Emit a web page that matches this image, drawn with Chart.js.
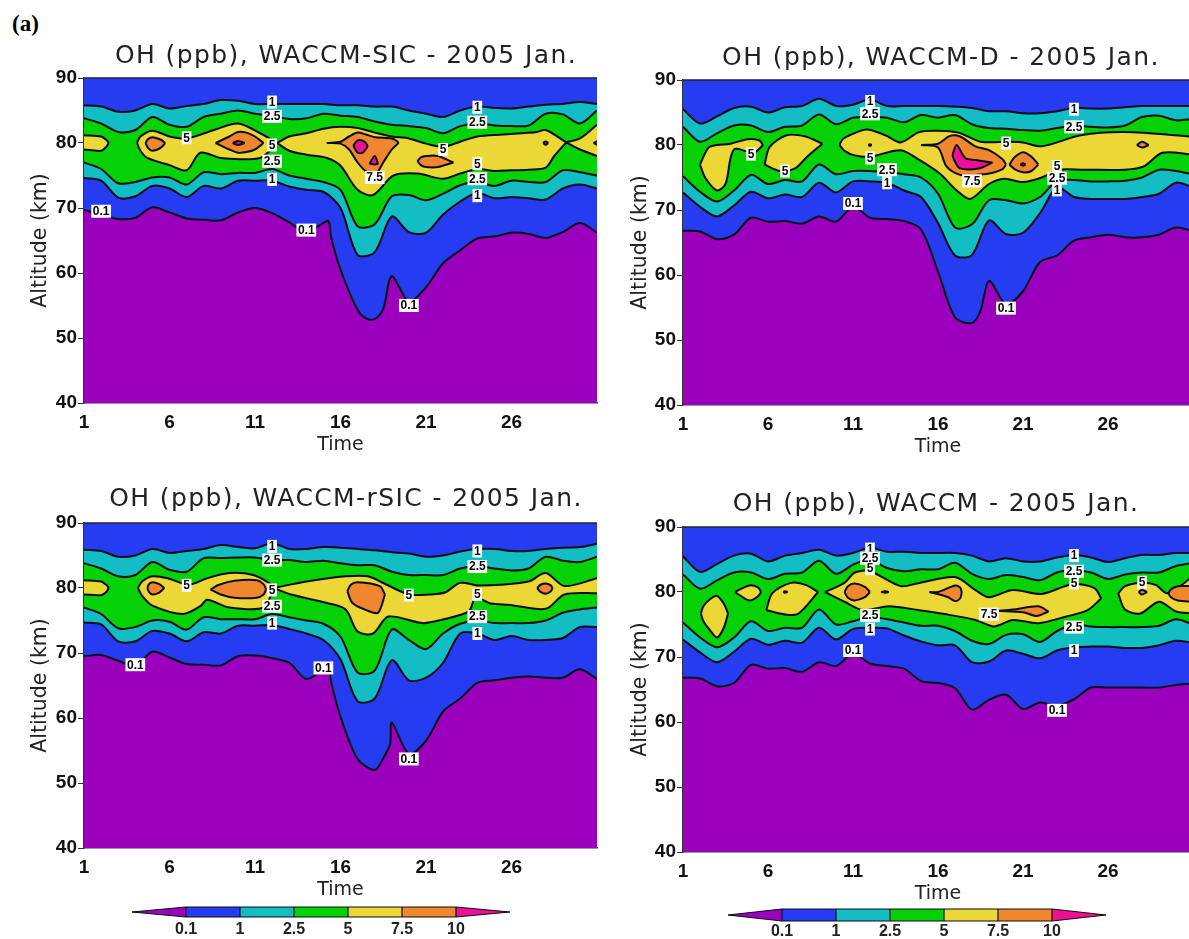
<!DOCTYPE html>
<html>
<head>
<meta charset="utf-8">
<title>OH (ppb) 2005 Jan.</title>
<script src="https://cdn.jsdelivr.net/npm/chart.js@4"></script>
<style>
html, body { margin: 0; padding: 0; width: 1189px; height: 939px; overflow: hidden; background: #fff; }
canvas { position: absolute; }
#tag { position: absolute; left: 12px; top: 11px; font: bold 23px "Liberation Serif", serif; color: #000; }
</style>
</head>
<body>
<div id="tag">(a)</div>
<canvas id="p-sic"></canvas>
<canvas id="p-d"></canvas>
<canvas id="p-rsic"></canvas>
<canvas id="p-base"></canvas>
<canvas id="bar-left"></canvas>
<canvas id="bar-right"></canvas>
<script>
const days = [1,2,3,4,5,6,7,8,9,10,11,12,13,14,15,16,17,18,19,20,21,22,23,24,25,26,27,28,29,30,31];
const xTickValues = [1,6,11,16,21,26];
const yTickValues = [40,50,60,70,80,90];
const levels = ['0.1','1','2.5','5','7.5','10'];

// WACCM-SIC contours, altitude in km per day
const sicUpper1 = [85.8,85.6,84.8,85,86,85.3,85.7,86,86.6,86.5,86,86,86,86,86,85.8,85.8,85.6,85.6,85,84.5,84,85,85.6,85.4,85.3,85.6,85.9,86,86.3,86];
const sicUpper25 = [83.8,83,81.7,82,84,82.8,82.5,84,84.5,85,84.5,84.2,83.7,83.8,84.5,84.2,84,83.3,82.8,82.6,82.3,81.5,82.6,83,82.7,82.6,82.7,84.5,84.4,83,85];
const sicLower25 = [77,76,73.8,74,74.7,74.7,73.6,75.5,75.2,75.4,75.4,76,75,74.5,74,72.8,67.2,67.5,71.8,72,71.2,72.2,73.5,74,73.4,74.2,74,74,75.8,75.5,75];
const sicLower1 = [74.6,74.2,71.6,71.8,73.4,73,71.7,73.4,73,74.2,74.2,74.2,73.3,72.8,72.5,70,62.8,63.2,68.7,66.3,66.2,69,71,72.3,71.5,71.7,71.5,71.3,73,73.6,73];
const sicLine01 = [[1,69.7],[2,69],[3,68.3],[4,68.5],[5,70.1],[6,69.3],[7,68.4],[8,68.2],[9,68.1],[10,69.3],[11,70],[12,69.2],[13,67.8],[14,66.3],[15,67.7],[15.3,68],[15.45,65.5],[16,60.5],[17,54.3],[17.5,53],[18,52.9],[18.5,54.5],[19,59.5],[20,55.6],[21,57.8],[22,61.5],[23,63.5],[24,65.3],[25,65.6],[26,66.2],[27,66],[28,65.4],[29,66.3],[30,67.7],[31,66.2]];
const sicIslands5 = [
  [[[1,81.2],[2,81],[2.3,80.5],[2.45,80]], [[1,79],[2,78.8],[2.3,79.4],[2.45,80]]],
  [[[4.1,80],[4.3,81],[5,81.9],[6,81],[7,80.7],[8.6,82],[10,83],[11.3,81.5],[12.3,80]], [[4.1,80],[4.3,78.8],[4.7,77.7],[6,76.6],[7,75.8],[7.8,78.5],[9,77.7],[11.3,77.7],[12.3,80]]],
  [[[12.3,80],[13,81],[14,81.5],[15,82.2],[16,82.5],[17,82.3],[18,81.6],[19,81],[20,80.7],[21,79.9],[22,79.4],[23,80.2],[24,81],[25.5,81.3],[27.5,81.7],[28,82],[29.2,80.1]], [[12.3,80],[13,78.8],[14,78.2],[15.2,77.7],[16,76.5],[17,72.8],[17.9,72],[19.1,75],[20.5,75.3],[22,74.5],[23,75.3],[24,76],[25,75.7],[26,75.8],[27,75.9],[28,76.2],[28.5,78],[29.2,80.1]]],
  [[[29.2,80.1],[30,80.7],[31,82.8]], [[29.2,80.1],[30,79],[31,78]]]
];
const sicIslands75 = [
  [[[4.6,80],[4.75,80.6],[5,80.9],[5.5,80.5],[5.75,80]], [[4.6,80],[4.75,79.2],[5,78.8],[5.5,79.3],[5.75,80]]],
  [[[8.7,80],[9.5,81],[10,81.7],[10.5,81.6],[11,81],[11.5,80]], [[8.7,80],[9.5,79],[10,78.5],[10.5,78.6],[11,79],[11.5,80]]],
  [[[15.2,80],[16,80.2],[16.5,81],[17,81.6],[17.5,81.3],[18,80.9],[19,80.7],[19.3,80.3],[19.4,80]], [[15.2,80],[16,79.9],[16.5,79],[17,77],[17.5,75.6],[18,75],[18.5,77],[19,79],[19.4,80]]],
  [[[20.5,77.2],[20.7,77.8],[21,78],[21.7,78],[22.6,77]], [[20.5,77.2],[20.7,76.6],[21,76.3],[21.7,76.3],[22.6,77]]],
  [[[27.85,80],[28,80.25],[28.15,80]], [[27.85,80],[28,79.75],[28.15,80]]],
  [[[30.8,80],[31,80.3]], [[30.8,80],[31,79.7]]]
];
const sicIslands10 = [
  [[[9.7,80],[10,80.3],[10.4,80]], [[9.7,80],[10,79.7],[10.4,80]]],
  [[[16.75,79.6],[17,80.4],[17.4,80.2],[17.6,79.5]], [[16.75,79.6],[17,78.5],[17.3,78.5],[17.6,79.5]]],
  [[[17.7,76.8],[18,78],[18.2,76.8]], [[17.7,76.8],[18,76.7],[18.2,76.8]]]
];
const sicLabels = [['0.1',2,69.5],['0.1',14,66.6],['0.1',20,55],['1',12,86.3],['2.5',12,84.1],['5',7,80.8],['5',12,79.7],['2.5',12,77.2],['1',12,74.4],['7.5',18,74.7],['5',22,79],['5',24,76.8],['2.5',24,74.5],['1',24,71.9],['1',24,85.5],['2.5',24,83.2]];

// WACCM-D contours
const dUpper1 = [85.5,83.3,84.4,85.7,85.9,85,85.8,86,87.1,86,86.2,87,86,86,86,86,85.9,85.7,85.2,85.2,84.9,84.9,85.2,85.7,85.6,85.6,85.8,86,86,86,86];
const dUpper25 = [82.8,80.5,81.8,83,83,82,82.8,83,84.7,83.2,84.2,84.3,84.2,83.5,84.6,84.2,84.6,83.2,82.6,82.5,82.3,82.2,82.6,83,82.8,82.7,83,84.3,84.5,83.8,84];
const dLower25 = [75.2,72.8,71.3,73,75.4,74,74.6,74.4,77,75.5,76,76,75.8,75.5,75,72.5,67.3,67.8,71.5,71.5,71,72,74.5,74.6,74.4,74.4,74.5,75,76.2,76,75.5];
const dLower1 = [72.7,70.5,69,70.7,72.8,71.8,72.4,72,74.2,72.7,74.4,74.4,74.2,73,72,68,63,63.1,68.4,66.3,66.5,69.5,73.5,72,71.7,71.7,71.7,72,72.5,74.2,73.5];
const dLine01 = [[1,66.8],[2,66.7],[3,65.5],[4,66.2],[5,68.8],[6,68.2],[7,68.3],[8,67.9],[9,69],[10,68.2],[11,70.5],[12,68.8],[13,68.6],[14,68.3],[15,67],[16,60.5],[17,53.5],[18,52.6],[18.5,54.5],[19,59.1],[20,55.5],[21,57.5],[22,62],[23,63],[24,65.3],[25,65.8],[26,66.2],[27,65.8],[28,65.8],[29,66.2],[30,67.3],[31,66.7]];
const dIslands5 = [
  [[[2,77],[2.5,79.6],[3,80],[3.8,80.2],[4.8,80.9],[5.5,80.7],[5.7,80]], [[2,77],[2.3,75],[3,73],[3.5,74],[3.8,78],[4.05,79.4],[4.8,79],[5.3,79],[5.7,80]]],
  [[[5.8,77],[6.1,79.7],[7.1,81.5],[8.2,81.3],[9.2,80.2]], [[5.8,77],[6.7,76],[7.6,76.4],[8.3,78.2],[9.2,80.2]]],
  [[[10.2,80],[10.4,80.9],[10.8,81.5],[11.8,82.4],[12.9,81.5],[13.8,80.4],[14.9,82],[16,82.2],[17.2,81.9],[18.5,80.5],[20.2,80.5],[21,80.4],[22.1,79.8],[24.4,81.5],[27,82],[31,81.3]], [[10.2,80],[10.5,79.1],[11.1,78.4],[12,78.2],[13.8,79.2],[14.9,77.7],[16.1,75.6],[17.1,73],[17.9,71.7],[19,74],[19.9,74.8],[21,74.3],[22.1,75],[23.1,76.2],[24.6,76.2],[27,76.2],[28.1,76.7],[29.2,78.8],[31,78.5]]]
];
const dIslands75 = [
  [[[15,80],[16,80.2],[16.7,81.4],[17.3,81.3],[18.2,79.8],[19,79.2],[19.8,77.8],[20,77]], [[15,80],[16,79.6],[16.5,76.7],[17.3,75.4],[18.2,75.4],[19,75.6],[19.8,76.3],[20,77]]],
  [[[20.2,77],[20.5,78.1],[21,78.9],[21.5,78.2],[21.9,77]], [[20.2,77],[20.5,76.3],[21,75.8],[21.5,76],[21.9,77]]],
  [[[11.9,80],[12,80.1],[12.1,80]], [[11.9,80],[12,79.9],[12.1,80]]],
  [[[27.7,80],[28,80.5],[28.4,80]], [[27.7,80],[28,79.6],[28.4,80]]]
];
const dIslands10 = [
  [[[16.85,78.5],[17.1,80],[17.6,78],[18.2,77.7],[19.2,77.3]], [[16.85,78.5],[16.95,77.7],[17.3,76.4],[18.4,76.4],[19.2,77.3]]],
  [[[20.85,77],[21,77.2],[21.15,77]], [[20.85,77],[21,76.8],[21.15,77]]]
];
const dLabels = [['1',12,86.7],['2.5',12,84.8],['5',5,78.6],['5',7,76],['5',12,78],['2.5',13,76.2],['1',13,74.2],['0.1',11,71],['7.5',18,74.5],['5',20,80.3],['5',23,76.7],['2.5',23,74.9],['1',23,73.1],['1',24,85.5],['2.5',24,82.8],['0.1',20,54.9]];

// WACCM-rSIC contours
const rsicUpper1 = [85.9,85.7,84.8,85,86,85.4,85.7,86,86.6,86.3,86.1,86.9,86,86,86.3,86.2,86,85.8,85.5,85.3,84.8,85,85.6,86,86,85.7,85.7,86,86.2,86.3,86.8];
const rsicUpper25 = [83.8,83,81.8,82,84,82.8,82.5,84.6,84.6,84.7,84.7,84.3,84.3,84,84.2,83.8,83.5,83.5,82.5,82,82,82,83,83.4,83,82.7,83,84.8,84.2,84,84.8];
const rsicLower25 = [77,76,73.8,74,75,74.8,73.6,75.5,75.2,75.2,75.2,76,75.5,75,74.5,72.5,67,67.3,73.6,72,70.6,73,74.5,75,74.6,74.6,74.6,75,76.2,76.7,77];
const rsicLower1 = [74.7,74.4,71.8,71.8,73.4,73,71.8,73.2,73,74.2,74.2,74.3,73.7,73,72,69,62.6,63,68.9,65.8,66.2,68.5,73,73,72,72.6,72,72,72.3,74,74];
const rsicLine01 = [[1,69.5],[2,69.7],[3,68.8],[4,68],[5,70.2],[6,69.3],[7,68.3],[8,68.2],[9,68.1],[10,69.5],[11,69.6],[12,69.2],[13,68.5],[14,66],[15,67.5],[15.3,68],[15.45,65.5],[16,60.2],[17,53.7],[18,52],[18.5,53.8],[18.9,56],[19,59.3],[20,54.5],[21,56.5],[22,61],[23,63],[24,65.4],[25,65.8],[26,66.2],[27,66.4],[28,66.2],[29,66.2],[30,67.5],[31,66]];
const rsicIslands5 = [
  [[[1,81.2],[2,81],[2.3,80.5],[2.45,80]], [[1,79],[2,78.9],[2.3,79.4],[2.45,80]]],
  [[[4.15,80],[4.4,81],[5,81.8],[5.9,81.5],[7.1,80.5],[8.2,81.5],[9.5,82.3],[10.9,82],[11.8,80.8],[12.1,80]], [[4.15,80],[4.4,78.8],[5,77.3],[6.8,76],[7.8,77.2],[8.2,78.2],[9.5,77],[11.5,77],[12.1,80]]],
  [[[12.1,80],[14,81],[16.3,81.8],[17.6,81.8],[18.7,80.5],[20,79],[21.2,79],[22.1,79.3],[23,80.8],[24,80.4],[25.3,80.5],[27,81],[28,82.3],[29.1,80.3],[31,81.5]], [[12.1,80],[13.1,79],[15.2,77.7],[16.3,76.7],[17,73.3],[17.9,73],[18.8,75.6],[20.8,74.6],[21.9,75.1],[23.5,76.4],[23.9,78.5],[24.8,77.6],[25.9,77.4],[28,76.8],[29.1,79],[31,79.2]]]
];
const rsicIslands75 = [
  [[[4.7,80],[4.8,80.6],[5,80.9],[5.4,80.6],[5.7,80]], [[4.7,80],[4.8,79.4],[5,79],[5.4,79.3],[5.7,80]]],
  [[[8.4,79.8],[8.9,80.5],[9.8,81.1],[11.1,81.2],[11.5,80.6],[11.65,79.8]], [[8.4,79.8],[9,79],[9.8,78.5],[11.1,78.5],[11.5,79],[11.65,79.8]]],
  [[[16.4,79.5],[16.6,80.5],[17,80.9],[18.3,80.3],[18.6,79]], [[16.4,79.5],[16.7,77.7],[17.6,76.5],[18.2,76.2],[18.6,79]]],
  [[[27.5,80],[27.7,80.5],[28,80.7],[28.3,80.4],[28.4,80]], [[27.5,80],[27.7,79.4],[28,79.1],[28.3,79.5],[28.4,80]]]
];
const rsicIslands10 = [];
const rsicLabels = [['0.1',4,68.2],['0.1',15,67.7],['0.1',20,53.7],['1',12,86.4],['2.5',12,84.3],['5',7,80.4],['5',12,79.7],['2.5',12,77.2],['1',12,74.6],['5',20,78.9],['5',24,79],['2.5',24,75.6],['1',24,73],['1',24,85.7],['2.5',24,83.3]];

// WACCM contours
const baseUpper1 = [85.5,83.1,84.3,85.6,85.9,84.7,85.6,86,86.5,85.6,86,86.8,86.2,86.2,86,86,86,85.6,84.7,85.2,84.7,84.7,85.3,85.7,85.3,84.6,85.2,85.7,85.7,86,86];
const baseUpper25 = [82.7,80.5,81.8,83,83,82,82.8,83,84.8,82.8,84.2,85,83.7,83.2,83.5,83.5,84.5,82.8,82,82.6,82.3,81.8,83,83.3,83,82,82.7,83,83,84,84.5];
const baseLower25 = [75.3,73,71.5,73,75.5,74,74.5,74.5,77.3,75,75.5,76.2,75.8,75.3,74.8,74.8,74,72.5,72,73.4,73.5,72.3,74,75,74.7,74.6,74.6,74.6,74.8,75.8,75];
const baseLower1 = [72.7,70.7,69.2,70.8,72.8,71.9,72.5,72.2,74.5,72.7,74.3,74.5,74.4,73.3,72.4,71.8,71.8,69.2,69.3,71,70.5,69.8,71,71.5,71.6,71.6,71.4,71.4,71.8,72.5,72.2];
const baseLine01 = [66.8,66.7,65.5,66,68.8,68.2,68.3,67.7,69.2,68.6,70.5,69,68.6,68.2,66.3,66,65.2,61.9,63.4,64.2,62,63,62.5,63.5,65.3,65.3,65.3,65.3,65.3,65.7,65.9];
const baseIslands5 = [
  [[[2.05,76.7],[2.2,77.8],[2.5,78.7],[3,79.4],[3.4,78.2],[3.65,76.7]], [[2.05,76.7],[2.2,75.5],[2.5,74.4],[3,73],[3.4,74.5],[3.65,76.7]]],
  [[[4.05,80],[4.9,81],[5.4,80.7],[5.6,80]], [[4.05,80],[4.9,78.7],[5.4,79.3],[5.6,80]]],
  [[[5.9,77.2],[6.25,79.8],[7.35,81.4],[8.2,81.1],[8.95,80]], [[5.9,77.2],[7.1,76.5],[7.8,76.7],[8.95,80]]],
  [[[9.35,80],[10.5,81.4],[11.1,83],[12,83.2],[13.8,80.9],[14.9,81.4],[17,82.3],[18.2,80.3],[19,79.2],[20.4,80.3],[22.1,79.7],[23.9,81.2],[25.2,80.6],[25.6,79]], [[9.35,80],[10.5,78.5],[11.6,77.2],[13.1,77.8],[14.9,77.2],[16.4,76.6],[18.2,75.7],[19.3,74.7],[20.4,75.7],[21.9,75.2],[23.5,76.2],[24.8,77.2],[25.6,79]]],
  [[[26.6,79.8],[27,80.9],[27.9,81.4],[28.8,81.1],[29.5,79.8],[31,82.4]], [[26.6,79.8],[27,77.3],[27.9,76.7],[29,78.5],[30,77],[31,76.7]]]
];
const baseIslands75 = [
  [[[10.5,80],[10.7,80.9],[11.1,81.3],[11.7,80.8],[12,80]], [[10.5,80],[10.7,79.1],[11.1,78.7],[11.7,79.2],[12,80]]],
  [[[12.65,80],[12.9,80.1],[13.1,80]], [[12.65,80],[12.9,79.9],[13.1,80]]],
  [[[15.5,80],[16,80],[17,81],[17.3,80.7],[17.4,80]], [[15.5,80],[16.6,79.2],[17,78.6],[17.3,79],[17.4,80]]],
  [[[19.5,77.1],[20.4,77.3],[21.9,77.8],[22.5,77]], [[19.5,77.1],[21,76.9],[21.8,76.3],[22.5,77]]],
  [[[29.55,79.8],[29.7,80.4],[30.1,80.9],[31,80.9]], [[29.55,79.8],[29.7,79.2],[30.1,78.7],[31,78.5]]],
  [[[27.8,80],[28,80.3],[28.3,80]], [[27.8,80],[28,79.6],[28.3,80]]],
  [[[6.9,80],[7,80.1],[7.15,80]], [[6.9,80],[7,79.9],[7.15,80]]]
];
const baseIslands10 = [];
const baseLabels = [['1',12,86.6],['2.5',12,85.2],['5',12,83.6],['2.5',12,76.4],['1',12,74.3],['0.1',11,71],['7.5',19,76.6],['1',24,85.6],['2.5',24,83.2],['5',24,81.4],['2.5',24,74.6],['1',24,71],['0.1',23,61.8],['5',28,81.5]];

const PURPLE = '#9b00bd', BLUE = '#253cf0', CYAN = '#12bdc4', GREEN = '#04d204',
      YELLOW = '#ebd735', ORANGE = '#f0872e', MAGENTA = '#ee1094';
const INK = '#0c0c14';

function toPoints(line) {
    if (typeof line[0] === 'number') return line.map((y, i) => ({ x: days[i], y }));
    return line.map(([x, y]) => ({ x, y }));
}

// white boxed labels sitting on the contours
const contourLabels = {
    id: 'contourLabels',
    afterDatasetsDraw(chart, args, opts) {
        const { ctx, scales } = chart;
        ctx.save();
        ctx.font = 'bold 12px "Liberation Sans"';
        ctx.textAlign = 'center';
        ctx.textBaseline = 'middle';
        opts.items.forEach(([text, day, alt]) => {
            const px = scales.x.getPixelForValue(day);
            const py = scales.y.getPixelForValue(alt);
            const w = ctx.measureText(text).width + 3;
            ctx.fillStyle = '#fff';
            ctx.fillRect(px - w / 2, py - 6.5, w, 13);
            ctx.fillStyle = '#000';
            ctx.fillText(text, px, py + 0.5);
        });
        ctx.restore();
    }
};

// title goes by hand: the built-in one can't letter-space or sit off-centre
const spacedTitle = {
    id: 'spacedTitle',
    afterDraw(chart, args, opts) {
        const { ctx } = chart;
        ctx.save();
        ctx.font = '25px "DejaVu Sans"';
        ctx.letterSpacing = '1.4px';
        ctx.fillStyle = '#222';
        ctx.textAlign = 'center';
        ctx.textBaseline = 'middle';
        ctx.fillText(opts.text, opts.x, opts.y);
        ctx.restore();
    }
};

function band(line, color) {
    return { data: toPoints(line), fill: 'start', backgroundColor: color, borderColor: INK, borderWidth: 2, pointRadius: 0, tension: 0.3 };
}

function islandSets(list, color) {
    const out = [];
    list.forEach(([up, lo]) => {
        out.push({ data: toPoints(lo), fill: '+1', backgroundColor: color, borderColor: INK, borderWidth: 2, pointRadius: 0, tension: 0.3 });
        out.push({ data: toPoints(up), fill: false, borderColor: INK, borderWidth: 2, pointRadius: 0, tension: 0.3 });
    });
    return out;
}

function makePanel(cfg) {
    const el = document.getElementById(cfg.id);
    el.width = cfg.width;
    el.height = cfg.height;
    el.style.left = cfg.left + 'px';
    el.style.top = cfg.top + 'px';

    const datasets = [
        { data: toPoints([[1, 90], [31, 90]]), fill: 'start', backgroundColor: BLUE, borderColor: '#223', borderWidth: 1.5, pointRadius: 0, clip: 2 },
        band(cfg.upper1, CYAN),
        band(cfg.upper25, GREEN),
        band(cfg.lower25, CYAN),
        band(cfg.lower1, BLUE),
        band(cfg.line01, PURPLE),
        ...islandSets(cfg.islands5, YELLOW),
        ...islandSets(cfg.islands75, ORANGE),
        ...islandSets(cfg.islands10, MAGENTA)
    ];
    // later sets go on top
    datasets.forEach((d, i) => { d.order = datasets.length - i; });

    return new Chart(el, {
        type: 'line',
        data: { datasets },
        plugins: [contourLabels, spacedTitle],
        options: {
            responsive: false,
            animation: false,
            events: [],
            layout: { padding: { left: 0, right: cfg.padRight, top: cfg.padTop, bottom: 0 } },
            plugins: {
                legend: { display: false },
                tooltip: { enabled: false },
                spacedTitle: { text: cfg.title, x: cfg.titleX, y: cfg.titleY },
                contourLabels: { items: cfg.labels }
            },
            scales: {
                x: {
                    type: 'linear',
                    min: 1,
                    max: 31,
                    afterBuildTicks: s => { s.ticks = xTickValues.map(v => ({ value: v })); },
                    afterFit: s => { s.height = 53; },
                    grid: { drawOnChartArea: false, drawTicks: false },
                    border: { color: '#333', width: 1.5 },
                    ticks: { color: '#111', autoSkip: false, maxRotation: 0, padding: 8, font: { family: '"Liberation Sans"', size: 19, weight: 'bold' } },
                    title: { display: true, text: 'Time', color: '#222', padding: { top: 0, bottom: 0 }, font: { family: '"DejaVu Sans"', size: 19 } }
                },
                y: {
                    min: 40,
                    max: 90,
                    afterBuildTicks: s => { s.ticks = yTickValues.map(v => ({ value: v })); },
                    afterFit: s => { s.width = cfg.axisWidth; },
                    grid: { drawOnChartArea: false, tickLength: 6, color: '#333' },
                    border: { color: '#333', width: 1.5 },
                    ticks: { color: '#111', padding: 1, font: { family: '"Liberation Sans"', size: 19, weight: 'bold' } },
                    title: { display: true, text: 'Altitude (km)', color: '#222', padding: { top: 28, bottom: 0 }, font: { family: '"DejaVu Sans"', size: 20.5 } }
                }
            }
        }
    });
}

function makeBar(id, left, top, width, height, padX, barHeight, labelPad) {
    const el = document.getElementById(id);
    el.width = width;
    el.height = height;
    el.style.left = left + 'px';
    el.style.top = top + 'px';

    const colors = [BLUE, CYAN, GREEN, YELLOW, ORANGE];
    const datasets = [];
    const outline = { borderColor: INK, borderWidth: 1.2, pointRadius: 0, clip: 2 };
    // end triangles
    datasets.push({ ...outline, data: [{ x: -1, y: 0 }, { x: 0, y: -1 }], fill: '+1', backgroundColor: PURPLE });
    datasets.push({ ...outline, data: [{ x: -1, y: 0 }, { x: 0, y: 1 }], fill: false });
    datasets.push({ ...outline, data: [{ x: 5, y: -1 }, { x: 6, y: 0 }], fill: '+1', backgroundColor: MAGENTA });
    datasets.push({ ...outline, data: [{ x: 5, y: 1 }, { x: 6, y: 0 }], fill: false });
    colors.forEach((c, i) => {
        datasets.push({ ...outline, data: [{ x: i, y: -1 }, { x: i + 1, y: -1 }], fill: '+1', backgroundColor: c });
        datasets.push({ ...outline, data: [{ x: i, y: 1 }, { x: i + 1, y: 1 }], fill: false });
    });
    levels.forEach((l, i) => {
        datasets.push({ ...outline, data: [{ x: i, y: -1 }, { x: i, y: 1 }], fill: false });
    });
    datasets.forEach((d, i) => { d.order = datasets.length - i; });

    return new Chart(el, {
        type: 'line',
        data: { datasets },
        options: {
            responsive: false,
            animation: false,
            events: [],
            layout: { padding: { left: padX, right: padX, top: 6, bottom: 0 } },
            plugins: { legend: { display: false }, tooltip: { enabled: false } },
            scales: {
                x: {
                    type: 'linear',
                    min: -1,
                    max: 6,
                    afterBuildTicks: s => { s.ticks = levels.map((l, i) => ({ value: i })); },
                    afterFit: s => { s.height = height - 6 - barHeight; },
                    grid: { display: false, drawTicks: false },
                    border: { display: false },
                    ticks: { color: '#222', autoSkip: false, maxRotation: 0, padding: labelPad, callback: v => levels[v], font: { family: '"Liberation Sans"', size: 16, weight: 'bold' } }
                },
                y: { display: false, min: -1, max: 1 }
            }
        }
    });
}

makePanel({ id: 'p-sic', left: 0, top: 30, width: 600, height: 426, padRight: 3, padTop: 48, axisWidth: 84, title: 'OH (ppb), WACCM-SIC - 2005 Jan.', titleX: 346, titleY: 26,
    upper1: sicUpper1, upper25: sicUpper25, lower25: sicLower25, lower1: sicLower1, line01: sicLine01,
    islands5: sicIslands5, islands75: sicIslands75, islands10: sicIslands10, labels: sicLabels });
makePanel({ id: 'p-d', left: 600, top: 32, width: 593, height: 426, padRight: 0, padTop: 48, axisWidth: 83, title: 'OH (ppb), WACCM-D - 2005 Jan.', titleX: 341, titleY: 26,
    upper1: dUpper1, upper25: dUpper25, lower25: dLower25, lower1: dLower1, line01: dLine01,
    islands5: dIslands5, islands75: dIslands75, islands10: dIslands10, labels: dLabels });
makePanel({ id: 'p-rsic', left: 0, top: 475, width: 600, height: 426, padRight: 3, padTop: 48, axisWidth: 84, title: 'OH (ppb), WACCM-rSIC - 2005 Jan.', titleX: 346, titleY: 24,
    upper1: rsicUpper1, upper25: rsicUpper25, lower25: rsicLower25, lower1: rsicLower1, line01: rsicLine01,
    islands5: rsicIslands5, islands75: rsicIslands75, islands10: rsicIslands10, labels: rsicLabels });
makePanel({ id: 'p-base', left: 600, top: 479, width: 593, height: 426, padRight: 0, padTop: 48, axisWidth: 83, title: 'OH (ppb), WACCM - 2005 Jan.', titleX: 336, titleY: 25,
    upper1: baseUpper1, upper25: baseUpper25, lower25: baseLower25, lower1: baseLower1, line01: baseLine01,
    islands5: baseIslands5, islands75: baseIslands75, islands10: baseIslands10, labels: baseLabels });

makeBar('bar-left', 112, 901, 418, 38, 20, 10, 3);
makeBar('bar-right', 708, 903, 418, 36, 20, 12, 1);
</script>
</body>
</html>
